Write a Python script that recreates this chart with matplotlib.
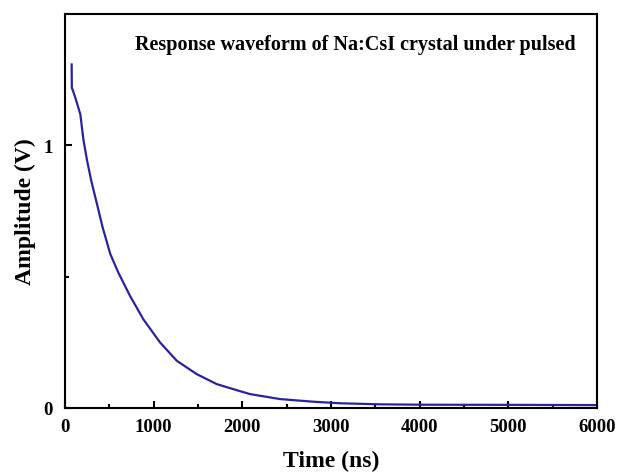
import matplotlib
matplotlib.use("Agg")
import matplotlib.pyplot as plt
from matplotlib.ticker import MultipleLocator

time_ns = [75, 77, 117, 173, 207, 250, 297, 361, 425, 511, 601, 733, 883, 1071,
           1260, 1485, 1711, 1955, 2086, 2425, 2797, 3101, 3553, 4037, 5000, 6000]
amplitude_v = [1.308, 1.22, 1.181, 1.118, 1.023, 0.94, 0.864, 0.776, 0.687, 0.586,
               0.516, 0.427, 0.338, 0.250, 0.180, 0.129, 0.091, 0.066, 0.053, 0.034,
               0.024, 0.018, 0.014, 0.0125, 0.012, 0.011]

plt.rcParams['font.family'] = ['Liberation Serif', 'DejaVu Serif']
plt.rcParams['font.weight'] = 'bold'

fig = plt.figure(figsize=(6.19, 4.77), dpi=100)
ax = fig.add_axes([65/619, 1 - 409/477, (597-65)/619, (409-15)/477])

ax.plot(time_ns, amplitude_v, color='#2b22a0', lw=1.6)

ax.set_xlim(0, 6000)
ax.set_ylim(0, 1.5)
ax.set_xticks([0, 1000, 2000, 3000, 4000, 5000, 6000])
ax.set_yticks([0, 1])
ax.xaxis.set_minor_locator(MultipleLocator(500))
ax.yaxis.set_minor_locator(MultipleLocator(0.5))
ax.tick_params(which='both', direction='in', width=1.5, labelsize=13.5)
ax.tick_params(which='major', length=5)
ax.tick_params(which='minor', length=3)
ax.tick_params(axis='x', pad=7)
ax.tick_params(axis='y', pad=9)
for s in ax.spines.values():
    s.set_linewidth(1.5)

ax.set_xlabel('Time (ns)', fontsize=17, fontweight='bold', labelpad=11)
ax.set_ylabel('Amplitude (V)', fontsize=17, fontweight='bold', labelpad=5)
ax.text(0.959, 0.948, 'Response waveform of Na:CsI crystal under pulsed',
        transform=ax.transAxes, ha='right', va='top', fontsize=14.5, fontweight='bold')

fig.savefig('out.png', dpi=100)
